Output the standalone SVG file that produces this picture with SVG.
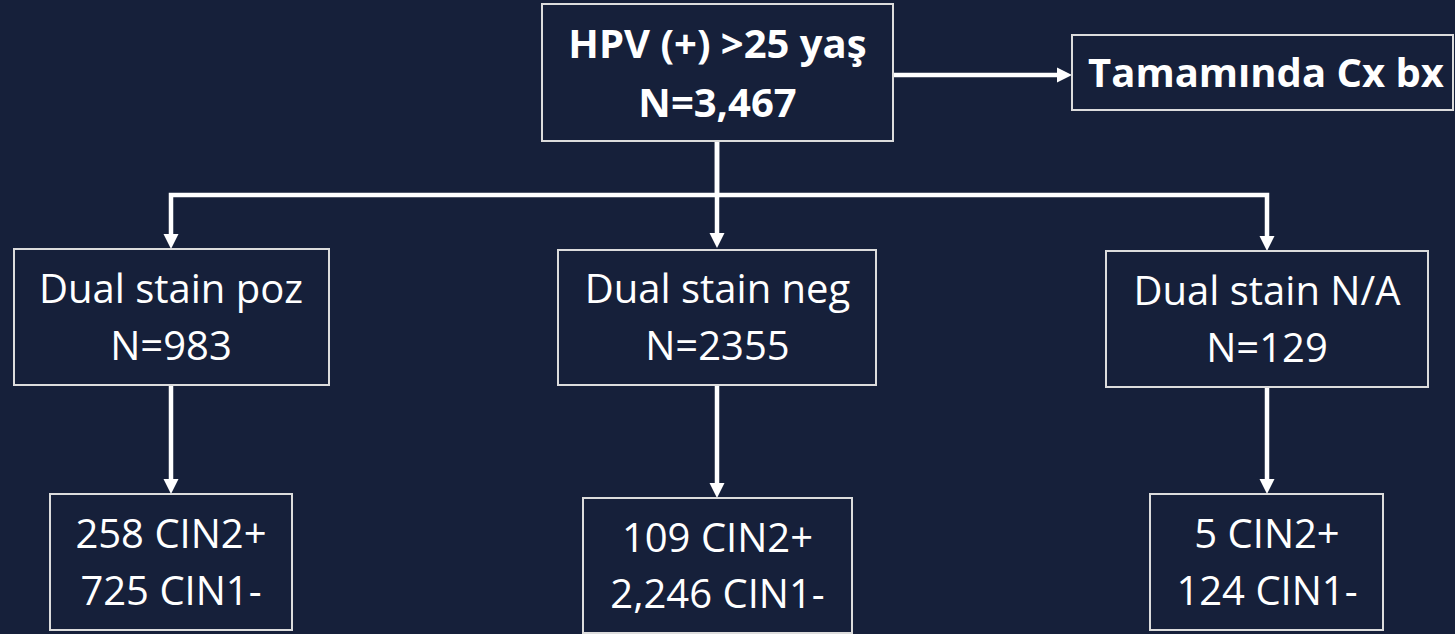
<svg xmlns="http://www.w3.org/2000/svg" width="1455" height="634" viewBox="0 0 1455 634">
<style>
.box{fill:#16203a;stroke:#dcdcdc;stroke-width:2}
.t{font-family:"Open Sans","Liberation Sans",sans-serif;font-size:40px;fill:#ffffff;text-anchor:middle}
.b{font-weight:bold}
.c{fill:none;stroke:#ffffff;stroke-width:4.5;stroke-linejoin:miter}
</style>
<defs>
<marker id="ah" markerUnits="userSpaceOnUse" markerWidth="15" markerHeight="15" refX="3" refY="7.5" orient="auto" overflow="visible">
<path d="M0,0 L15,7.5 L0,15 z" fill="#ffffff"/>
</marker>
</defs>
<rect x="0" y="0" width="1455" height="634" fill="#16203a"/>
<g id="connectors">
<path class="c" d="M893,75 H1060" marker-end="url(#ah)"/>
<path class="c" d="M717,141 V195 H171 V237" marker-end="url(#ah)"/>
<path class="c" d="M717,141 V236" marker-end="url(#ah)"/>
<path class="c" d="M717,195 H1267 V239" marker-end="url(#ah)"/>
<path class="c" d="M171,385 V482" marker-end="url(#ah)"/>
<path class="c" d="M717,385 V486" marker-end="url(#ah)"/>
<path class="c" d="M1267,387 V482" marker-end="url(#ah)"/>
</g>
<g id="n-top">
<rect class="box" x="542" y="4" width="351" height="137"/>
<text class="t b" x="717.5" y="58">HPV (+) &gt;25 yaş</text>
<text class="t b" x="717.5" y="117">N=3,467</text>
</g>
<g id="n-cxbx">
<rect class="box" x="1072" y="35" width="381" height="75"/>
<text class="t b" x="1266" y="87">Tamamında Cx bx</text>
</g>
<g id="n-poz">
<rect class="box" x="14" y="249" width="315" height="136"/>
<text class="t" x="171" y="303">Dual stain poz</text>
<text class="t" x="171" y="360">N=983</text>
</g>
<g id="n-neg">
<rect class="box" x="558" y="250" width="318" height="135"/>
<text class="t" x="717.5" y="303">Dual stain neg</text>
<text class="t" x="717.5" y="360">N=2355</text>
</g>
<g id="n-na">
<rect class="box" x="1106" y="251" width="322" height="136"/>
<text class="t" x="1267" y="305">Dual stain N/A</text>
<text class="t" x="1267" y="362">N=129</text>
</g>
<g id="n-poz-res">
<rect class="box" x="50" y="494" width="242" height="136"/>
<text class="t" x="171" y="548">258 CIN2+</text>
<text class="t" x="171" y="605">725 CIN1-</text>
</g>
<g id="n-neg-res">
<rect class="box" x="583" y="498" width="269" height="135"/>
<text class="t" x="717.5" y="552">109 CIN2+</text>
<text class="t" x="717.5" y="608">2,246 CIN1-</text>
</g>
<g id="n-na-res">
<rect class="box" x="1150" y="494" width="233" height="136"/>
<text class="t" x="1267" y="548">5 CIN2+</text>
<text class="t" x="1267" y="605">124 CIN1-</text>
</g>
</svg>
